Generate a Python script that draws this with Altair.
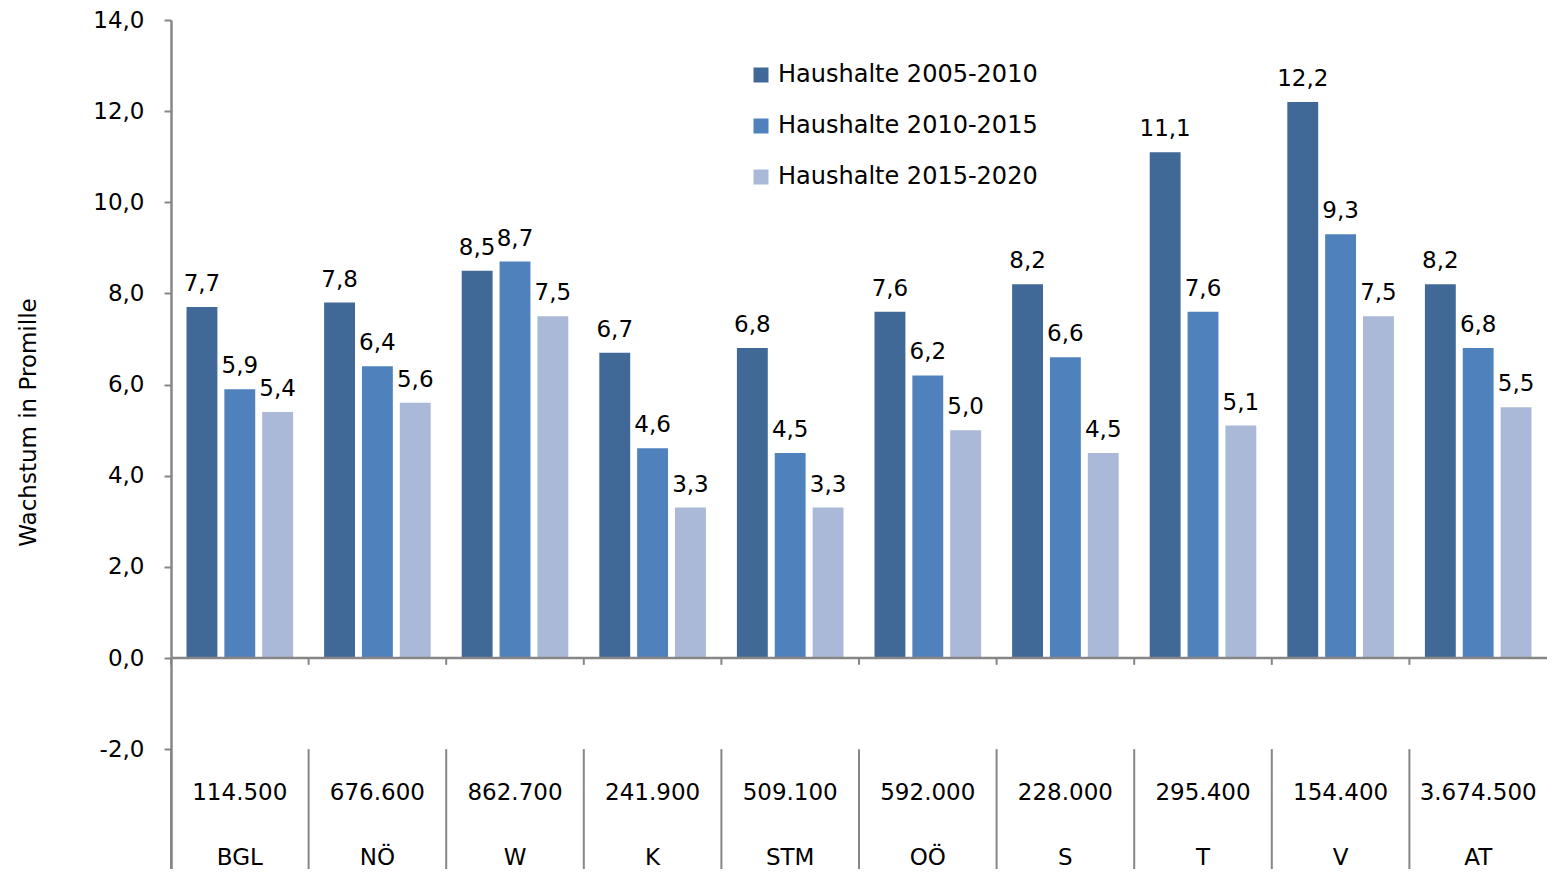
import altair as alt
import pandas as pd

regions = ["BGL", "NÖ", "W", "K", "STM", "OÖ", "S", "T", "V", "AT"]
households = ["114.500", "676.600", "862.700", "241.900", "509.100",
              "592.000", "228.000", "295.400", "154.400", "3.674.500"]
series = ["Haushalte 2005-2010", "Haushalte 2010-2015", "Haushalte 2015-2020"]
h_2005_2010 = [7.7, 7.8, 8.5, 6.7, 6.8, 7.6, 8.2, 11.1, 12.2, 8.2]
h_2010_2015 = [5.9, 6.4, 8.7, 4.6, 4.5, 6.2, 6.6, 7.6, 9.3, 6.8]
h_2015_2020 = [5.4, 5.6, 7.5, 3.3, 3.3, 5.0, 4.5, 5.1, 7.5, 5.5]
colors = ["#416998", "#4F81BD", "#AAB9D7"]
y_ticks = [-2, 0, 2, 4, 6, 8, 10, 12, 14]

rows = []
for s, vals in zip(series, [h_2005_2010, h_2010_2015, h_2015_2020]):
    for r, v in zip(regions, vals):
        rows.append({"region": r, "series": s, "value": v})
df = pd.DataFrame(rows)
table = pd.DataFrame({"region": regions, "households": households})

FONT = "DejaVu Sans"
FS = 23
Y_MIN, Y_MAX = -4.63, 14
GRAY = "#868686"

yscale = alt.Scale(domain=[Y_MIN, Y_MAX], nice=False, zero=False)
xenc = alt.X("region:N", sort=regions, axis=None,
             scale=alt.Scale(paddingInner=0, paddingOuter=0))
xoff = alt.XOffset("series:N", sort=series,
                   scale=alt.Scale(paddingInner=0.184, paddingOuter=0.41))

bars = alt.Chart(df).mark_bar().encode(
    x=xenc,
    xOffset=xoff,
    y=alt.Y("value:Q", scale=yscale,
            axis=alt.Axis(values=y_ticks, grid=False,
                          labelExpr="replace(replace(format(datum.value, '.1f'), '.', ','), '\u2212', '-')",
                          title="Wachstum in Promille")),
    color=alt.Color("series:N", sort=series,
                    scale=alt.Scale(domain=series, range=colors),
                    legend=alt.Legend(title=None, orient="none", legendX=578, legendY=43,
                                      symbolType="square", symbolSize=225,
                                      symbolStrokeWidth=0, labelFontSize=24,
                                      labelFont=FONT, labelColor="black", labelLimit=0,
                                      rowPadding=27, labelOffset=5)),
)

labels = alt.Chart(df).transform_calculate(
    lab="replace(format(datum.value, '.1f'), '.', ',')"
).mark_text(baseline="middle", dy=-23, fontSize=FS, font=FONT, color="black").encode(
    x=xenc, xOffset=xoff, y=alt.Y("value:Q", scale=yscale), text="lab:N"
)

zero_line = alt.Chart(pd.DataFrame({"v": [0]})).mark_rule(
    color=GRAY, strokeWidth=2.5).encode(y=alt.Y("v:Q", scale=yscale))

xb = alt.X("region:N", sort=regions, axis=None, bandPosition=0)
dividers = alt.Chart(table).transform_calculate(a="-2", b=str(Y_MIN)).mark_rule(
    color=GRAY, strokeWidth=2).encode(
    x=xb, y=alt.Y("a:Q", scale=yscale), y2="b:Q")
small_ticks = alt.Chart(table).transform_calculate(a="0", b="-0.15").mark_rule(
    color=GRAY, strokeWidth=2).encode(
    x=xb, y=alt.Y("a:Q", scale=yscale), y2="b:Q")

num_text = alt.Chart(table).transform_calculate(yy="-2.96").mark_text(
    fontSize=FS, font=FONT, color="black", baseline="middle").encode(
    x=xenc, y=alt.Y("yy:Q", scale=yscale), text="households:N")
reg_text = alt.Chart(table).transform_calculate(yy="-4.39").mark_text(
    fontSize=FS, font=FONT, color="black", baseline="middle").encode(
    x=xenc, y=alt.Y("yy:Q", scale=yscale), text="region:N")

chart = alt.layer(bars, labels, zero_line, dividers, small_ticks, num_text, reg_text).properties(
    width=1376, height=849,
    padding={"left": 163, "top": 12, "right": 0, "bottom": 0},
    autosize=alt.AutoSizeParams(type="none"),
).configure_view(stroke=None).configure_axis(
    domainColor=GRAY, domainWidth=2.5, tickColor=GRAY, tickWidth=2, tickSize=7,
    labelPadding=20, labelFontSize=FS, labelFont=FONT, labelColor="black",
    titleFontSize=FS, titleFont=FONT, titleFontWeight="normal", titleColor="black",
    titleX=-143, titleY=402, titleAngle=270, titleAlign="center", titleBaseline="middle",
)

chart.save("out.html", embed_options={"renderer": "svg", "actions": False})
